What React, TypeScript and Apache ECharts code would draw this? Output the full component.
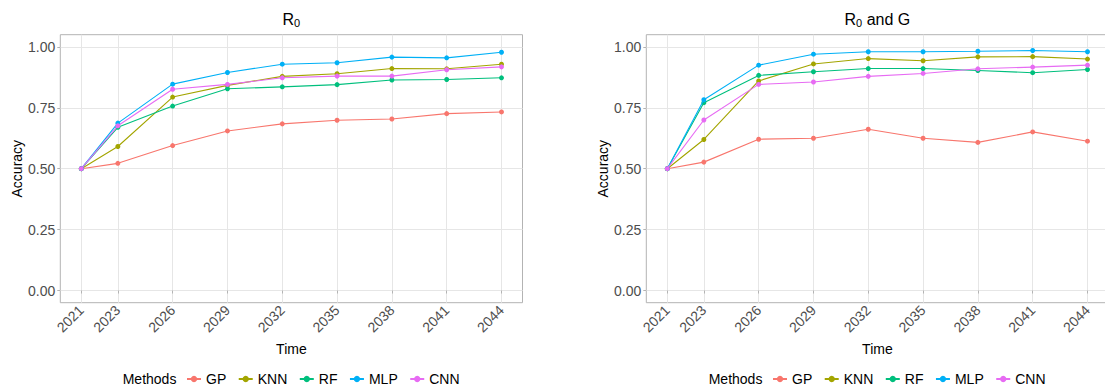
import React, { useEffect, useRef } from "react";
import * as echarts from "echarts";

const years = [2021, 2023, 2026, 2029, 2032, 2035, 2038, 2041, 2044];
const methods = ["GP", "KNN", "RF", "MLP", "CNN"];
const colors = ["#F8766D", "#A3A500", "#00BF7D", "#00B0F6", "#E76BF3"];
const yTicks = [0, 0.25, 0.5, 0.75, 1.0];

// Panel 1: R0
const r0GP = [0.5, 0.522, 0.595, 0.655, 0.684, 0.699, 0.704, 0.726, 0.733];
const r0KNN = [0.5, 0.591, 0.794, 0.842, 0.879, 0.89, 0.911, 0.91, 0.929];
const r0RF = [0.5, 0.67, 0.757, 0.828, 0.836, 0.845, 0.864, 0.866, 0.873];
const r0MLP = [0.5, 0.687, 0.847, 0.895, 0.929, 0.935, 0.958, 0.955, 0.978];
const r0CNN = [0.5, 0.676, 0.826, 0.846, 0.873, 0.88, 0.88, 0.906, 0.918];

// Panel 2: R0 and G
const rgGP = [0.5, 0.527, 0.621, 0.625, 0.662, 0.625, 0.608, 0.651, 0.613];
const rgKNN = [0.5, 0.62, 0.86, 0.93, 0.952, 0.943, 0.959, 0.96, 0.95];
const rgRF = [0.5, 0.771, 0.883, 0.898, 0.911, 0.911, 0.903, 0.894, 0.907];
const rgMLP = [0.5, 0.783, 0.925, 0.97, 0.98, 0.98, 0.982, 0.985, 0.98];
const rgCNN = [0.5, 0.7, 0.846, 0.856, 0.879, 0.891, 0.91, 0.917, 0.925];

const panels = [
  { left: 60.3, titleRest: "", series: [r0GP, r0KNN, r0RF, r0MLP, r0CNN] },
  { left: 646.3, titleRest: " and G", series: [rgGP, rgKNN, rgRF, rgMLP, rgCNN] },
];

const FONT = "Liberation Sans, Arial, Helvetica, sans-serif";
const PW = 462.2;
const TOP = 34.7;
const PH = 268;

export default function App() {
  const ref = useRef<HTMLDivElement>(null);
  useEffect(() => {
    if (!ref.current) return;
    const chart = echarts.init(ref.current, undefined, { renderer: "svg" });
    const grid: any[] = [];
    const xAxis: any[] = [];
    const yAxis: any[] = [];
    const series: any[] = [];
    const legend: any[] = [];
    const graphic: any[] = [];
    panels.forEach((p, pi) => {
      grid.push({
        left: p.left,
        top: TOP,
        width: PW,
        height: PH,
        show: true,
        borderColor: "#B3B3B3",
        borderWidth: 1,
        backgroundColor: "#FFFFFF",
        containLabel: false,
        outerBoundsMode: "none",
      });
      xAxis.push({
        type: "value",
        gridIndex: pi,
        min: 2019.85,
        max: 2045.15,
        name: "Time",
        nameLocation: "middle",
        nameGap: 38,
        nameTextStyle: { fontFamily: FONT, fontSize: 14, color: "#000" },
        axisLine: { show: false },
        axisTick: { show: true, length: 3, lineStyle: { color: "#B3B3B3" }, customValues: years },
        axisLabel: {
          customValues: years,
          rotate: 45,
          margin: 5,
          fontFamily: FONT,
          fontSize: 14,
          color: "#4D4D4D",
          formatter: (v: number) => String(v),
        },
        splitLine: { show: true, lineStyle: { color: "#E6E6E6", width: 1 } },
      });
      yAxis.push({
        type: "value",
        gridIndex: pi,
        min: -0.05,
        max: 1.05,
        name: "Accuracy",
        nameLocation: "middle",
        nameGap: 35,
        nameTextStyle: { fontFamily: FONT, fontSize: 14, color: "#000" },
        axisLine: { show: false },
        axisTick: { show: true, length: 3, lineStyle: { color: "#B3B3B3" }, customValues: yTicks },
        axisLabel: {
          customValues: yTicks,
          margin: 5,
          fontFamily: FONT,
          fontSize: 14,
          color: "#4D4D4D",
          formatter: (v: number) => v.toFixed(2),
        },
        splitLine: { show: true, lineStyle: { color: "#E6E6E6", width: 1 } },
      });
      p.series.forEach((vals, si) => {
        series.push({
          type: "line",
          name: methods[si],
          xAxisIndex: pi,
          yAxisIndex: pi,
          data: years.map((y, i) => [y, vals[i]]),
          symbol: "circle",
          symbolSize: 5,
          showSymbol: true,
          color: colors[si],
          lineStyle: { width: 1.1, color: colors[si] },
          itemStyle: { color: colors[si] },
          z: 2 + si,
        });
      });
      const off = p.left - 60.3;
      legend.push({
        data: methods,
        left: 186 + off,
        top: 372,
        padding: 0,
        orient: "horizontal",
        itemWidth: 14,
        itemHeight: 8,
        itemGap: 11.5,
        textStyle: { fontFamily: FONT, fontSize: 14, color: "#000" },
        selectedMode: false,
      });
      graphic.push({
        type: "text",
        x: 122.7 + off,
        y: 379,
        style: {
          text: "Methods",
          fontFamily: FONT,
          fontSize: 14,
          fill: "#000",
          verticalAlign: "middle",
          align: "left",
        },
      });
      graphic.push({
        type: "text",
        x: p.left + PW / 2,
        y: 19,
        style: {
          text: "{m|R}{s|0}{m|" + p.titleRest + "}",
          align: "center",
          verticalAlign: "middle",
          rich: {
            m: { fontFamily: FONT, fontSize: 16, fill: "#000", color: "#000" },
            s: { fontFamily: FONT, fontSize: 11, fill: "#000", color: "#000", padding: [8, 0, 0, 0] },
          },
        },
      });
    });
    chart.setOption({
      animation: false,
      backgroundColor: "#FFFFFF",
      grid,
      xAxis,
      yAxis,
      series,
      legend,
      graphic,
    });
    return () => chart.dispose();
  }, []);
  return (
    <div
      ref={ref}
      style={{ position: "fixed", left: 0, top: 0, width: 1105, height: 389, background: "#fff" }}
    />
  );
}
